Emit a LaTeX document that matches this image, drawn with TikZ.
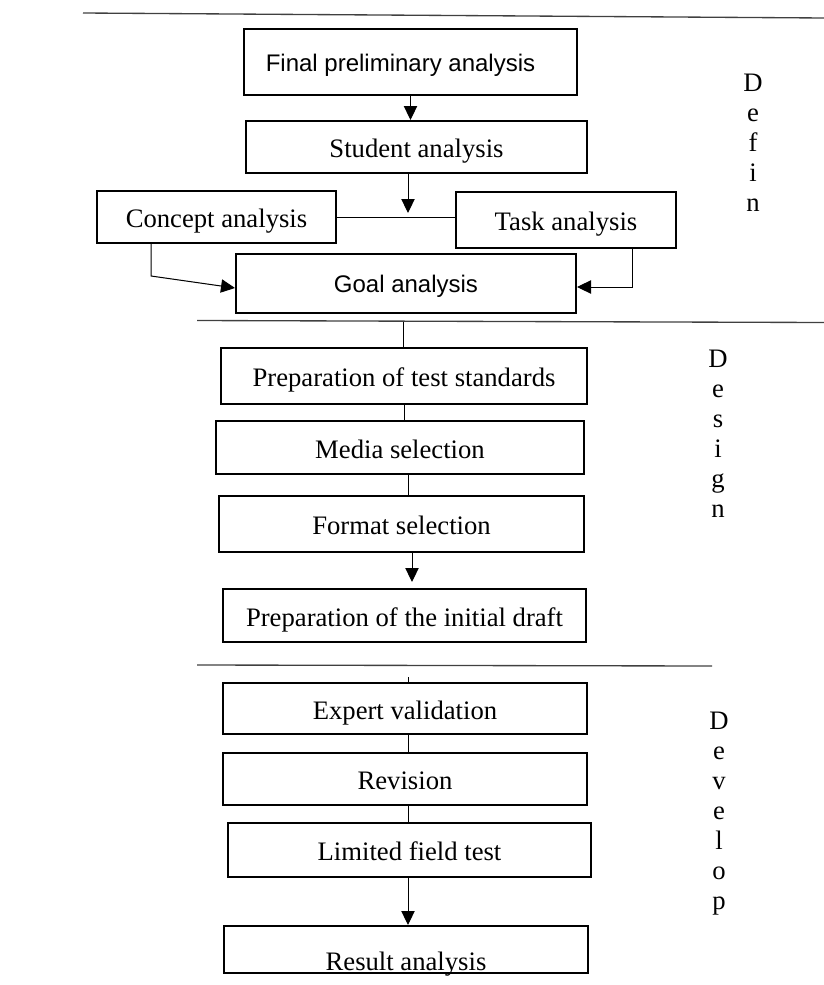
\documentclass[tikz,border=0pt]{standalone}
\usepackage{fontspec}
\setmainfont{Liberation Serif}
\newfontfamily\sansf{Liberation Sans}
\usetikzlibrary{arrows.meta,calc}
\begin{document}
\begin{tikzpicture}[x=0.75pt,y=-0.75pt,
  box/.style={draw,line width=1.5pt,rectangle,inner sep=0pt,
    font=\fontsize{20pt}{24pt}\selectfont,text height=15.8pt,text depth=0pt},
  sbox/.style={box,font=\sansf\fontsize{18pt}{22pt}\selectfont,text height=14pt,text depth=0pt},
  conn/.style={line width=0.75pt},
  arr/.style={conn,-{Triangle[length=10.5pt,width=10pt]}},
  sect/.style={line width=1pt,black!75},
  side/.style={align=center,inner sep=0pt,anchor=north,
    font=\fontsize{20pt}{22.5pt}\selectfont}
]
\useasboundingbox (0,0) rectangle (824,985);

% section lines
\coordinate (s1a) at (83,13);   \coordinate (s1b) at (824,18);
\coordinate (s2a) at (197,320.5); \coordinate (s2b) at (824,322.5);
\coordinate (s3a) at (197,665); \coordinate (s3b) at (712,666);
\draw[sect] (s1a) -- (s1b);
\draw[sect] (s2a) -- (s2b);
\draw[sect] (s3a) -- (s3b);

% Define
\node[sbox,minimum width=249.75pt,minimum height=49.5pt] (fpa) at (410.5,62) {Final preliminary analysis\hspace*{15pt}};
\node[box,minimum width=255.75pt,minimum height=39pt] (sa) at (416.5,147) {Student analysis};
\node[box,minimum width=179.25pt,minimum height=39pt] (ca) at (216.5,217) {Concept analysis};
\node[box,minimum width=165pt,minimum height=42pt] (ta) at (566,220) {Task analysis};
\node[sbox,minimum width=255pt,minimum height=44.25pt] (ga) at (406,283.5) {Goal analysis};

% Design
\node[box,minimum width=274.5pt,minimum height=42pt] (pts) at (404,376) {Preparation of test standards};
\node[box,minimum width=276pt,minimum height=39.75pt] (ms) at (400,447.5) {Media selection};
\node[box,minimum width=273.75pt,minimum height=42pt] (fs) at (401.5,524) {Format selection};
\node[box,minimum width=272.25pt,minimum height=39.75pt] (pid) at (404.5,615.5) {Preparation of the initial draft};

% Develop
\node[box,minimum width=273pt,minimum height=38.25pt] (ev) at (405,708.5) {Expert validation};
\node[box,minimum width=273pt,minimum height=39pt] (rv) at (405,779) {Revision};
\node[box,minimum width=272.25pt,minimum height=40.5pt] (lft) at (409.5,850) {Limited field test};
\node[box,minimum width=273pt,minimum height=35.25pt] (ra) at (406,949.5) {\raisebox{-8.2pt}{Result analysis}};

% side labels
\node[side] (lbdef) at (753,74) {D\\e\\f\\i\\n};
\node[side] (lbdes) at (718,350) {D\\e\\s\\i\\g\\n};
\node[side] (lbdev) at (719,712) {D\\e\\v\\e\\l\\o\\p};

% connectors: Define
\coordinate (j1) at (408,213);
\draw[arr] (fpa.south) -- (fpa.south |- sa.north);
\draw[arr] (sa.south -| j1) -- (j1);
\draw[conn] (ca.east) -- (ca.east -| ta.west);
\coordinate (c1) at (151,276);
\coordinate (c2) at (236,288);
\draw[arr] (ca.south -| c1) -- (c1) -- (ga.west |- c2);
\coordinate (t1) at (632,287);
\draw[arr] (ta.south -| t1) -- (t1) -- (ga.east |- t1);

% connectors: Design
\coordinate (g1) at (403,321.5);
\draw[conn] (g1) -- (pts.north -| g1);
\draw[conn] (pts.south) -- (pts.south |- ms.north);
\coordinate (m1) at (408,0);
\draw[conn] (ms.south -| m1) -- (fs.north -| m1);
\coordinate (f1) at (412,0);
\draw[arr,shorten >=4.5pt] (fs.south -| f1) -- (pid.north -| f1);

% connectors: Develop
\coordinate (k1) at (408,677);
\draw[conn] (k1) -- (ev.north -| k1);
\draw[conn] (ev.south -| k1) -- (rv.north -| k1);
\draw[conn] (rv.south -| k1) -- (lft.north -| k1);
\draw[arr] (lft.south -| k1) -- (ra.north -| k1);
\end{tikzpicture}
\end{document}
